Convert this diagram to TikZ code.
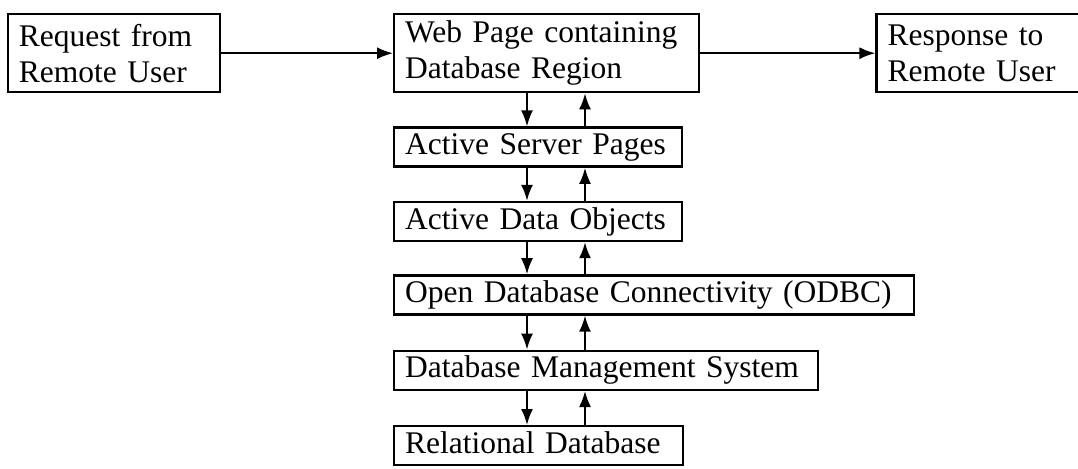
\documentclass[tikz,border=0pt]{standalone}
\usepackage{fontspec}
\setmainfont{Liberation Serif}
\usepackage{tikz}
\usetikzlibrary{arrows.meta,positioning}
\tikzset{
      layerbox/.style = {draw, line width=1.2pt, inner xsep=5.5pt, inner ysep=2pt, align=left,
                         font=\fontsize{15.75pt}{18pt}\selectfont},
      twoline/.style  = {layerbox, minimum height=39pt},
      oneline/.style  = {layerbox, minimum height=19.5pt, text height=11pt, text depth=3.5pt},
      flow/.style     = {black, line width=1pt, ->, >={Latex[length=8pt,width=6pt]}},
    }

\begin{document}
\begin{tikzpicture}[auto]
        \useasboundingbox (0,0) rectangle (539pt,-234pt);
        \node [twoline, text width=141.5pt, anchor=north west] (web) at (196.5pt,-6.5pt) {Web Page containing\\Database Region};
        \node [twoline, text width=95pt, left=86pt of web] (req) {Request from\\Remote User};
        \node [twoline, text width=90.5pt, right=87.5pt of web] (resp) {Response to\\Remote User};
        \node [oneline, text width=133pt, below=16.5pt of web.south west, anchor=north west] (asp) {Active Server Pages};
        \node [oneline, text width=133pt, below=16.5pt of asp.south west, anchor=north west] (ado) {Active Data Objects};
        \node [oneline, text width=249pt, below=16pt of ado.south west, anchor=north west] (odbc) {Open Database Connectivity (ODBC)};
        \node [oneline, text width=201pt, below=17pt of odbc.south west, anchor=north west] (dbms) {Database Management System};
        \node [oneline, text width=133.5pt, below=17pt of dbms.south west, anchor=north west] (rdb) {Relational Database};

        \path (req) edge[flow] (web);
        \path (web) edge[flow] (resp);
        \path ([xshift=67pt]web.south west) edge[flow] ([xshift=67pt]asp.north west);
        \path ([xshift=96pt]asp.north west) edge[flow] ([xshift=96pt]web.south west);
        \path ([xshift=67pt]asp.south west) edge[flow] ([xshift=67pt]ado.north west);
        \path ([xshift=96pt]ado.north west) edge[flow] ([xshift=96pt]asp.south west);
        \path ([xshift=67pt]ado.south west) edge[flow] ([xshift=67pt]odbc.north west);
        \path ([xshift=96pt]odbc.north west) edge[flow] ([xshift=96pt]ado.south west);
        \path ([xshift=67pt]odbc.south west) edge[flow] ([xshift=67pt]dbms.north west);
        \path ([xshift=96pt]dbms.north west) edge[flow] ([xshift=96pt]odbc.south west);
        \path ([xshift=67pt]dbms.south west) edge[flow] ([xshift=67pt]rdb.north west);
        \path ([xshift=96pt]rdb.north west) edge[flow] ([xshift=96pt]dbms.south west);
\end{tikzpicture}
\end{document}
